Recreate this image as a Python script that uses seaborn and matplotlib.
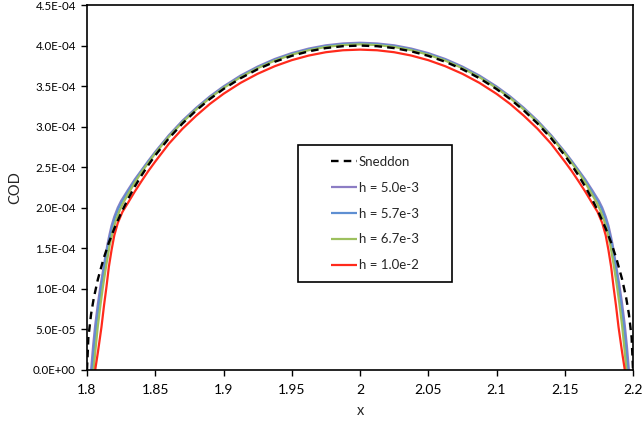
import matplotlib
matplotlib.use("Agg")
import matplotlib.pyplot as plt
import seaborn as sns
import pandas as pd
from matplotlib.patches import Rectangle
from matplotlib.ticker import FuncFormatter

# ---------------- data (COD values in units of 1e-4) ----------------
body_x = [1.830, 1.835, 1.840, 1.845, 1.850, 1.860, 1.870, 1.880, 1.890, 1.900,
          1.9125, 1.925, 1.9375, 1.950, 1.9625, 1.975, 1.9875, 2.000, 2.0125, 2.025,
          2.0375, 2.050, 2.0625, 2.075, 2.0875, 2.100, 2.110, 2.120, 2.130, 2.140,
          2.150, 2.155, 2.160, 2.165, 2.170]

# Sneddon
sn_left_x = [1.800, 1.801, 1.803, 1.805, 1.808, 1.812, 1.816, 1.820, 1.825]
sn_left_y = [0.00, 0.40, 0.69, 0.89, 1.12, 1.365, 1.57, 1.744, 1.936]
sn_body_y = [2.107, 2.261, 2.40, 2.528, 2.646, 2.857, 3.04, 3.20, 3.341, 3.464,
             3.597, 3.708, 3.80, 3.873, 3.929, 3.969, 3.992, 4.00, 3.992, 3.969,
             3.929, 3.873, 3.80, 3.708, 3.597, 3.464, 3.341, 3.20, 3.04, 2.857,
             2.646, 2.528, 2.40, 2.261, 2.107]
sn_right_x = [2.175, 2.180, 2.184, 2.188, 2.192, 2.195, 2.197, 2.199, 2.200]
sn_right_y = [1.936, 1.744, 1.57, 1.365, 1.12, 0.89, 0.69, 0.40, 0.00]

# h = 5.0e-3
p_left_x = [1.8030, 1.8045, 1.8060, 1.8080, 1.8100, 1.8125, 1.8150, 1.8165, 1.8180, 1.8200, 1.8225, 1.8250]
p_left_y = [0.00, 0.30, 0.55, 0.82, 1.05, 1.30, 1.55, 1.67, 1.78, 1.89, 2.00, 2.085]
p_body_y = [2.22, 2.35, 2.465, 2.58, 2.69, 2.895, 3.075, 3.232, 3.373, 3.496,
            3.630, 3.741, 3.834, 3.907, 3.963, 4.003, 4.026, 4.035, 4.026, 4.003,
            3.963, 3.907, 3.834, 3.741, 3.630, 3.496, 3.373, 3.232, 3.075, 2.895,
            2.69, 2.58, 2.465, 2.35, 2.22]
p_right_x = [2.1750, 2.1775, 2.1800, 2.1820, 2.1835, 2.1850, 2.1875, 2.1900, 2.1920, 2.1940, 2.1955, 2.1970]
p_right_y = [2.085, 2.00, 1.89, 1.78, 1.67, 1.55, 1.30, 1.05, 0.82, 0.55, 0.30, 0.00]

# h = 5.7e-3
b_left_x = [1.8038, 1.8053, 1.8068, 1.8088, 1.8105, 1.8130, 1.8155, 1.8170, 1.8185, 1.8205, 1.8230, 1.8255]
b_left_y = [0.00, 0.30, 0.55, 0.82, 1.03, 1.30, 1.55, 1.66, 1.77, 1.88, 1.99, 2.075]
b_body_y = [2.20, 2.335, 2.455, 2.57, 2.68, 2.885, 3.065, 3.222, 3.363, 3.486,
            3.62, 3.731, 3.824, 3.897, 3.953, 3.993, 4.016, 4.025, 4.016, 3.993,
            3.953, 3.897, 3.824, 3.731, 3.62, 3.486, 3.363, 3.222, 3.065, 2.885,
            2.68, 2.57, 2.455, 2.335, 2.20]
b_right_x = [2.1745, 2.1770, 2.1795, 2.1815, 2.1830, 2.1845, 2.1870, 2.1895, 2.1912, 2.1932, 2.1947, 2.1962]
b_right_y = [2.075, 1.99, 1.88, 1.77, 1.66, 1.55, 1.30, 1.03, 0.82, 0.55, 0.30, 0.00]

# h = 6.7e-3
g_left_x = [1.8048, 1.8065, 1.8080, 1.8100, 1.8117, 1.8140, 1.8165, 1.8180, 1.8195, 1.8215, 1.8240, 1.8265]
g_left_y = [0.00, 0.30, 0.55, 0.82, 1.03, 1.28, 1.53, 1.64, 1.75, 1.86, 1.97, 2.06]
g_body_y = [2.165, 2.31, 2.44, 2.555, 2.67, 2.875, 3.055, 3.212, 3.353, 3.476,
            3.61, 3.721, 3.814, 3.887, 3.943, 3.983, 4.006, 4.015, 4.006, 3.983,
            3.943, 3.887, 3.814, 3.721, 3.61, 3.476, 3.353, 3.212, 3.055, 2.875,
            2.67, 2.555, 2.44, 2.31, 2.165]
g_right_x = [2.1735, 2.1760, 2.1785, 2.1805, 2.1820, 2.1835, 2.1860, 2.1883, 2.1900, 2.1920, 2.1935, 2.1952]
g_right_y = [2.06, 1.97, 1.86, 1.75, 1.64, 1.53, 1.28, 1.03, 0.82, 0.55, 0.30, 0.00]

# h = 1.0e-2
r_left_x = [1.8060, 1.8080, 1.8106, 1.8125, 1.8143, 1.8160, 1.8180, 1.8200, 1.8225, 1.8260]
r_left_y = [0.00, 0.22, 0.53, 0.80, 1.03, 1.27, 1.48, 1.66, 1.81, 1.95]
r_body_y = [2.06, 2.20, 2.33, 2.455, 2.57, 2.79, 2.975, 3.135, 3.28, 3.405,
            3.54, 3.652, 3.745, 3.82, 3.877, 3.918, 3.942, 3.95, 3.942, 3.918,
            3.877, 3.82, 3.745, 3.652, 3.54, 3.405, 3.28, 3.135, 2.975, 2.79,
            2.57, 2.455, 2.33, 2.20, 2.06]
r_right_x = [2.1740, 2.1775, 2.1800, 2.1820, 2.1840, 2.1857, 2.1875, 2.1894, 2.1920, 2.1940]
r_right_y = [1.95, 1.81, 1.66, 1.48, 1.27, 1.03, 0.80, 0.53, 0.22, 0.00]

series_labels = ["Sneddon", "h = 5.0e-3", "h = 5.7e-3", "h = 6.7e-3", "h = 1.0e-2"]
x_ticks = [1.8, 1.85, 1.9, 1.95, 2.0, 2.05, 2.1, 2.15, 2.2]
y_ticks = [0.0, 0.5e-4, 1.0e-4, 1.5e-4, 2.0e-4, 2.5e-4, 3.0e-4, 3.5e-4, 4.0e-4, 4.5e-4]

# ---------------- build long table ----------------
parts = [
    ("Sneddon", sn_left_x, sn_left_y, sn_body_y, sn_right_x, sn_right_y),
    ("h = 5.0e-3", p_left_x, p_left_y, p_body_y, p_right_x, p_right_y),
    ("h = 5.7e-3", b_left_x, b_left_y, b_body_y, b_right_x, b_right_y),
    ("h = 6.7e-3", g_left_x, g_left_y, g_body_y, g_right_x, g_right_y),
    ("h = 1.0e-2", r_left_x, r_left_y, r_body_y, r_right_x, r_right_y),
]
frames = []
for lab, lx, ly, by, rx, ry in parts:
    xs = list(lx) + list(body_x) + list(rx)
    ys = list(ly) + list(by) + list(ry)
    frames.append(pd.DataFrame({"x": xs, "COD": [v * 1e-4 for v in ys], "series": lab}))
df = pd.concat(frames, ignore_index=True)

# ---------------- style ----------------
sns.set_style("white")
plt.rcParams["font.family"] = ["Lato", "DejaVu Sans"]

fig = plt.figure(figsize=(6.43, 4.29), dpi=100)
ax = fig.add_axes([87 / 643, (429 - 370) / 429, (633 - 87) / 643, 365 / 429])

colors = {
    "h = 5.0e-3": "#8C7DC4",
    "h = 5.7e-3": "#5E8FD2",
    "h = 6.7e-3": "#9DC05E",
    "h = 1.0e-2": "#FF2A1C",
}
for lab in ["h = 5.0e-3", "h = 5.7e-3", "h = 6.7e-3", "h = 1.0e-2"]:
    sub = df[df["series"] == lab]
    sns.lineplot(data=sub, x="x", y="COD", sort=False, estimator=None, ax=ax,
                 color=colors[lab], linewidth=1.6, label=lab)
sub = df[df["series"] == "Sneddon"]
sns.lineplot(data=sub, x="x", y="COD", sort=False, estimator=None, ax=ax,
             color="black", linewidth=1.7, label="Sneddon")
ax.lines[-1].set_dashes([3.2, 2.2])
for ln in ax.lines:
    ln.set_solid_joinstyle("round")
    ln.set_solid_capstyle("butt")

ax.set_xlim(1.8, 2.2)
ax.set_ylim(0, 4.5e-4)
ax.set_xticks(x_ticks)
ax.set_yticks(y_ticks)
ax.xaxis.set_major_formatter(FuncFormatter(lambda v, p: f"{v:g}"))
ax.yaxis.set_major_formatter(FuncFormatter(lambda v, p: f"{v:.1E}"))
ax.tick_params(axis="x", direction="out", length=4, width=1, labelsize=10, pad=6, colors="black")
ax.tick_params(axis="y", direction="out", length=4, width=1, labelsize=8.3, pad=4, colors="black")
ax.tick_params(left=True, bottom=True)
for s in ax.spines.values():
    s.set_color("black")
    s.set_linewidth(1.2)
ax.set_xlabel("x", fontsize=10.5, labelpad=6)
ax.set_ylabel("COD", fontsize=10.5, labelpad=8)

# legend with separate frame
h, l = ax.get_legend_handles_labels()
order = [l.index(s) for s in series_labels]
leg = ax.legend([h[i] for i in order], [l[i] for i in order], loc="center",
                bbox_to_anchor=(0.527, 0.4285), frameon=False, fontsize=9.5,
                handlelength=2.0, handletextpad=0.15, labelspacing=1.05)
ax.add_patch(Rectangle((0.3864, 0.241), 0.6685 - 0.3864, 0.616 - 0.241,
                       transform=ax.transAxes, fill=False, edgecolor="black",
                       linewidth=1.2, zorder=5))

fig.savefig("out.png", dpi=100)
